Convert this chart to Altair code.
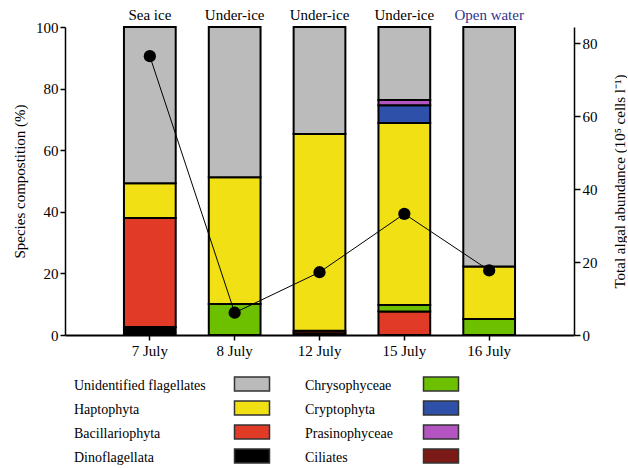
import altair as alt
import pandas as pd

# Sampling dates and the habitat each sample came from
dates = ["7 July", "8 July", "12 July", "15 July", "16 July"]
sites = ["Sea ice", "Under-ice", "Under-ice", "Under-ice", "Open water"]
site_colors = ["#000000", "#000000", "#000000", "#000000", "#33338c"]

# Taxonomic groups (legend order) and their fill colours
groups = ["Unidentified flagellates", "Haptophyta", "Bacillariophyta", "Dinoflagellata",
          "Chrysophyceae", "Cryptophyta", "Prasinophyceae", "Ciliates"]
group_colors = ["#bbbbbb", "#f1e114", "#e13a26", "#000000",
                "#6cc000", "#2f50a8", "#b255c0", "#7b1a17"]

# Species composition (%) for each date
unidentified = [50.7, 48.8, 34.7, 23.7, 77.8]
haptophyta = [11.3, 41.1, 63.9, 59.1, 17.0]
bacillariophyta = [35.4, 0.0, 0.8, 7.6, 0.0]
dinoflagellata = [2.6, 0.0, 0.6, 0.0, 0.0]
chrysophyceae = [0.0, 10.1, 0.0, 2.1, 5.2]
cryptophyta = [0.0, 0.0, 0.0, 5.8, 0.0]
prasinophyceae = [0.0, 0.0, 0.0, 1.7, 0.0]
ciliates = [0.0, 0.0, 0.0, 0.0, 0.0]

# Total algal abundance (10^5 cells per litre)
abundance = [76.4, 6.1, 17.2, 33.2, 17.7]

# Bottom-to-top stacking order inside each bar
stack_order = ["Dinoflagellata", "Bacillariophyta", "Chrysophyceae", "Haptophyta",
               "Cryptophyta", "Prasinophyceae", "Ciliates", "Unidentified flagellates"]
series = {
    "Unidentified flagellates": unidentified,
    "Haptophyta": haptophyta,
    "Bacillariophyta": bacillariophyta,
    "Dinoflagellata": dinoflagellata,
    "Chrysophyceae": chrysophyceae,
    "Cryptophyta": cryptophyta,
    "Prasinophyceae": prasinophyceae,
    "Ciliates": ciliates,
}

rows = []
for i, d in enumerate(dates):
    base = 0.0
    for g in stack_order:
        v = series[g][i]
        if v > 0:
            rows.append({"date": d, "group": g, "pct": v, "y0": base, "y1": base + v})
        base += v
comp = pd.DataFrame(rows)

top = pd.DataFrame({"date": dates, "site": sites, "site_color": site_colors,
                    "abundance": abundance})

FONT = "Liberation Serif"
color_scale = alt.Scale(domain=groups, range=group_colors)

x_enc = alt.X("date:N", sort=dates,
              scale=alt.Scale(paddingInner=0.39, paddingOuter=0.695),
              axis=alt.Axis(title=None, labelAngle=0, domainWidth=2, tickSize=5,
                            labelPadding=3))

bars = alt.Chart(comp).mark_bar(stroke="black", strokeWidth=2).encode(
    x=x_enc,
    y=alt.Y("y0:Q", scale=alt.Scale(domain=[0, 100], nice=False),
            axis=alt.Axis(title="Species compostition (%)", values=[0, 20, 40, 60, 80, 100],
                          tickSize=5, domainWidth=1.5, titlePadding=8)),
    y2="y1:Q",
    fill=alt.Fill("group:N", scale=color_scale, legend=None),
)

site_labels = alt.Chart(top).mark_text(
    font=FONT, fontSize=15, baseline="bottom", dy=-4
).encode(
    x=alt.X("date:N", sort=dates),
    y=alt.datum(100),
    text="site:N",
    color=alt.Color("site_color:N", scale=None),
)

left = alt.layer(bars, site_labels)

line = alt.Chart(top).mark_line(color="black", strokeWidth=1).encode(
    x=alt.X("date:N", sort=dates),
    y=alt.Y("abundance:Q", scale=alt.Scale(domain=[0, 84.4], nice=False),
            axis=alt.Axis(orient="right", values=[0, 20, 40, 60, 80], tickSize=6,
                          domainWidth=1.5, titleAngle=270, titlePadding=30,
                          title="Total algal abundance (10⁵ cells l⁻¹)")),
)
dots = alt.Chart(top).mark_circle(color="black", size=150, opacity=1).encode(
    x=alt.X("date:N", sort=dates),
    y=alt.Y("abundance:Q"),
)
right = alt.layer(line, dots)

main = alt.layer(left, right).resolve_scale(y="independent").properties(
    width=509, height=308
)

# Two-column key with the label on the left and the swatch on the right
key = pd.DataFrame({
    "group": groups,
    "col": [i // 4 for i in range(len(groups))],
    "row": [i % 4 for i in range(len(groups))],
})

key_text = alt.Chart(key).mark_text(
    font=FONT, fontSize=14, align="left", baseline="middle", color="black"
).encode(
    x=alt.X("col:Q", scale=alt.Scale(domain=[0, 1], range=[9, 240]), axis=None),
    y=alt.Y("row:Q", scale=alt.Scale(domain=[0, 3], range=[28, 100]), axis=None),
    text="group:N",
)
key_swatch = alt.Chart(key).mark_point(
    shape="M-1,-0.4L1,-0.4L1,0.4L-1,0.4Z", size=1225, filled=True, opacity=1,
    stroke="#333333", strokeWidth=1.5
).encode(
    x=alt.X("col:Q", scale=alt.Scale(domain=[0, 1], range=[187, 376]), axis=None),
    y=alt.Y("row:Q", scale=alt.Scale(domain=[0, 3], range=[26, 98]), axis=None),
    fill=alt.Fill("group:N", scale=color_scale, legend=None),
)
legend = alt.layer(key_text, key_swatch).resolve_scale(x="independent", y="independent").properties(
    width=509, height=106
)

chart = alt.vconcat(main, legend, spacing=0).properties(
    padding={"left": 12, "top": 8, "right": 0, "bottom": 0}
).configure(font=FONT).configure_view(stroke=None).configure_axis(
    labelFont=FONT, labelFontSize=15, labelColor="black",
    titleFont=FONT, titleFontSize=15, titleFontWeight="normal", titleColor="black",
    domainColor="black", tickColor="black", tickWidth=1.5, grid=False
)

chart.save("out.html", embed_options={"renderer": "svg", "actions": False})
